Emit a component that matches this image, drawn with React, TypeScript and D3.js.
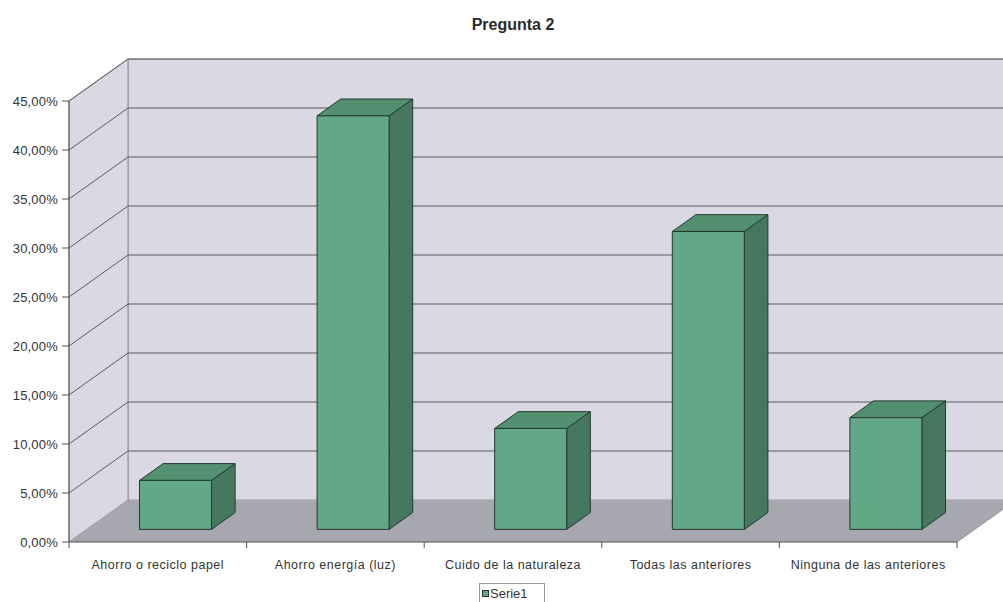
import React from "react";
import * as d3 from "d3";

const categories = [
  "Ahorro o reciclo papel",
  "Ahorro energía (luz)",
  "Cuido de la naturaleza",
  "Todas las anteriores",
  "Ninguna de las anteriores",
];
const serie1 = [5.0, 42.2, 10.3, 30.4, 11.4];
const yTicks = [0, 5, 10, 15, 20, 25, 30, 35, 40, 45];
const seriesName = "Serie1";
const title = "Pregunta 2";

const W = 1003;
const H = 602;
const frontLeft = 69;
const frontRight = 957;
const yBottom = 542;
const yTop = 101;
// oblique depth vector (full depth of the plot box)
const DX = 59;
const DY = -42;
const barD0 = 0.3;
const barD1 = 0.7;
const barHalf = 36;

const fmt = (v: number) => v.toFixed(2).replace(".", ",") + "%";

export default function App() {
  const y = d3.scaleLinear().domain([0, 45]).range([yBottom, yTop]);
  const x = d3.scaleBand<string>().domain(categories).range([frontLeft, frontRight]);
  const P = (px: number, v: number, d: number): [number, number] => [px + DX * d, y(v) + DY * d];
  const poly = (pts: [number, number][]) => pts.map((p) => p.join(",")).join(" ");

  const wall = "#DAD8E3";
  const floor = "#A7A8AF";
  const grid = "#5A5A60";
  const font = "Arial, 'Liberation Sans', sans-serif";

  return (
    <svg width={W} height={H} style={{ position: "absolute", left: 0, top: 0, background: "#fff" }}>
      <text x={513} y={30} textAnchor="middle" fontFamily={font} fontWeight="bold" fontSize={16} fill="#2a2a2a">
        {title}
      </text>

      {/* back wall */}
      <polygon
        points={poly([P(frontLeft, 45, 1), P(frontRight, 45, 1), P(frontRight, 0, 1), P(frontLeft, 0, 1)])}
        fill={wall}
        stroke="#9a9aa2"
        strokeWidth={1}
      />
      {/* side wall */}
      <polygon
        points={poly([P(frontLeft, 45, 0), P(frontLeft, 45, 1), P(frontLeft, 0, 1), P(frontLeft, 0, 0)])}
        fill={wall}
        stroke="#8a8a92"
        strokeWidth={1}
      />
      {/* floor */}
      <polygon
        points={poly([P(frontLeft, 0, 0), P(frontLeft, 0, 1), P(frontRight, 0, 1), P(frontRight, 0, 0)])}
        fill={floor}
      />
      <line x1={P(frontRight, 0, 0)[0]} y1={P(frontRight, 0, 0)[1]} x2={P(frontRight, 0, 1)[0]} y2={P(frontRight, 0, 1)[1]} stroke="#8e8f96" />

      {/* gridlines on side and back walls */}
      {yTicks.filter((t) => t > 0).map((t) => {
        const a = P(frontLeft, t, 0);
        const b = P(frontLeft, t, 1);
        const c = P(frontRight, t, 1);
        return (
          <g key={t}>
            <line x1={a[0]} y1={a[1]} x2={b[0]} y2={b[1]} stroke={grid} strokeWidth={1} />
            <line x1={b[0]} y1={b[1]} x2={c[0]} y2={c[1]} stroke={grid} strokeWidth={1} />
          </g>
        );
      })}

      {/* bars */}
      {categories.map((c, i) => {
        const cx = (x(c) as number) + x.bandwidth() / 2;
        const v = serie1[i];
        const l = cx - barHalf;
        const r = cx + barHalf;
        const front = [P(l, v, barD0), P(r, v, barD0), P(r, 0, barD0), P(l, 0, barD0)];
        const top = [P(l, v, barD0), P(l, v, barD1), P(r, v, barD1), P(r, v, barD0)];
        const side = [P(r, v, barD0), P(r, v, barD1), P(r, 0, barD1), P(r, 0, barD0)];
        return (
          <g key={c} stroke="#23392d" strokeWidth={1} strokeLinejoin="round">
            <polygon points={poly(side)} fill="#467860" />
            <polygon points={poly(top)} fill="#52906F" />
            <polygon points={poly(front)} fill="#62A887" />
          </g>
        );
      })}

      {/* value axis */}
      <line x1={frontLeft} y1={yTop} x2={frontLeft} y2={yBottom} stroke="#555" />
      {yTicks.map((t) => (
        <g key={t}>
          <line x1={frontLeft - 7} y1={y(t)} x2={frontLeft} y2={y(t)} stroke="#555" />
          <text x={58} y={y(t) + 5} textAnchor="end" fontFamily={font} fontSize={13} letterSpacing={0.2} fill="#333">
            {fmt(t)}
          </text>
        </g>
      ))}

      {/* category axis */}
      <line x1={frontLeft} y1={yBottom} x2={frontRight} y2={yBottom} stroke="#555" />
      {categories.map((c, i) => (
        <g key={c}>
          <line x1={(x(c) as number) + x.bandwidth()} y1={yBottom} x2={(x(c) as number) + x.bandwidth()} y2={yBottom + 6} stroke="#555" />
          {i === 0 && <line x1={frontLeft} y1={yBottom} x2={frontLeft} y2={yBottom + 6} stroke="#555" />}
          <text x={(x(c) as number) + x.bandwidth() / 2} y={569} textAnchor="middle" fontFamily={font} fontSize={12.5} letterSpacing={0.5} fill="#333">
            {c}
          </text>
        </g>
      ))}

      {/* legend */}
      <rect x={479.5} y={583.5} width={65} height={19} fill="#fff" stroke="#999" />
      <rect x={482.5} y={590.5} width={6} height={6} fill="#62A887" stroke="#23392d" />
      <text x={490} y={598} fontFamily={font} fontSize={13} fill="#333">
        {seriesName}
      </text>
    </svg>
  );
}
